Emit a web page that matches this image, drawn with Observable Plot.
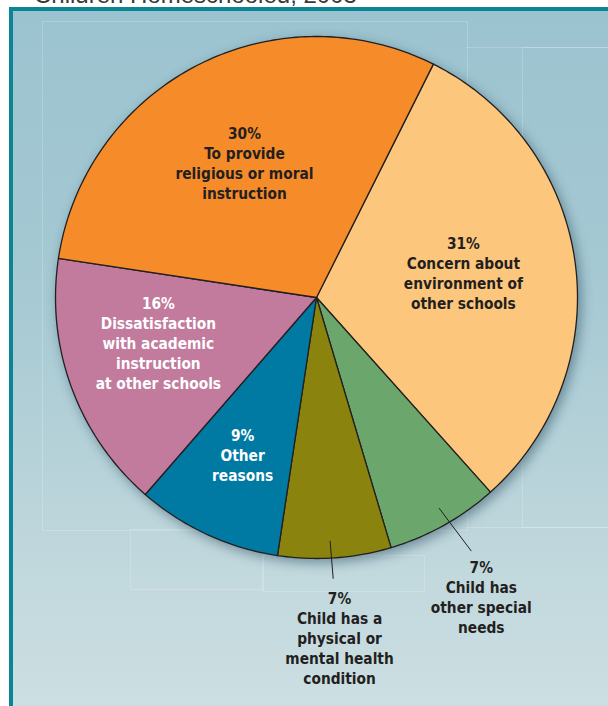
<!DOCTYPE html>
<html>
<head>
<meta charset="utf-8">
<script src="https://cdn.jsdelivr.net/npm/d3@7"></script>
<script src="https://cdn.jsdelivr.net/npm/@observablehq/plot@0.6"></script>
<style>
  html, body { margin: 0; padding: 0; background: #fff; }
  #wrap { position: relative; width: 608px; height: 706px; overflow: hidden; background: #fff; }
  #title { position: absolute; left: 34px; top: -19px; font-family: "Liberation Sans", Arial, sans-serif; font-size: 24px; line-height: 28px; color: #3a3a3a; white-space: nowrap; }
  #panel { position: absolute; left: 9px; top: 7px; width: 700px; height: 800px;
    border-top: 4px solid #0b8495; border-left: 4px solid #0b8495;
    background: linear-gradient(to bottom, #9bc3cf 0%, #a6c9d3 35%, #c1d8dd 70%, #d5e4e6 100%); }
  .grid { position: absolute; border: 1px solid rgba(255,255,255,0.2); }
  #chart { position: absolute; left: 0; top: 0; }
</style>
</head>
<body>
<div id="wrap">
  <div id="title">Children Homeschooled, 2003</div>
  <div id="panel"></div>
  <div class="grid" style="left:42px;top:21px;width:424px;height:508px;"></div>
  <div class="grid" style="left:466px;top:47px;width:200px;height:479px;border-left:none;"></div>
  <div class="grid" style="left:522px;top:47px;width:120px;height:479px;"></div>
  <div class="grid" style="left:130px;top:529px;width:132px;height:59px;"></div>
  <div class="grid" style="left:262px;top:555px;width:161px;height:35px;"></div>
  <div id="chart"></div>
</div>
<script>
// Reasons for homeschooling (percent of homeschooled children), clockwise
const categories = [
  "Concern about environment of other schools",
  "Child has other special needs",
  "Child has a physical or mental health condition",
  "Other reasons",
  "Dissatisfaction with academic instruction at other schools",
  "To provide religious or moral instruction"
];
const values = [31, 7, 7, 9, 16, 30];
const labelLines = [
  ["Concern about", "environment of", "other schools"],
  ["Child has", "other special", "needs"],
  ["Child has a", "physical or", "mental health", "condition"],
  ["Other", "reasons"],
  ["Dissatisfaction", "with academic", "instruction", "at other schools"],
  ["To provide", "religious or moral", "instruction"]
];
const colors = ["#fdc67d", "#6ba76c", "#8a840f", "#0079a3", "#c27a9d", "#f68b2a"];
const textColors = ["#231f20", "#231f20", "#231f20", "#ffffff", "#ffffff", "#231f20"];

// layout (not data): label placement
const outside = [false, true, true, false, false, false];
const labelR = [0.571, 1.185, 1.125, 0.665, 0.63, 0.586];
const labelNudge = [-2.1, -3.0, -0.5, 0.4, 4.3, -0.7];
const leaderR0 = 0.935, leaderR1 = [0, 1.137, 1.078];

const startDeg = 26.6;
const rad = Math.PI / 180;
const pie = d3.pie().sort(null).value(d => d)
  .startAngle(startDeg * rad).endAngle(startDeg * rad + 2 * Math.PI);
const arcs = pie(values);

const pts = (a, r) => ({x: r * Math.sin(a), y: r * Math.cos(a)});

const slices = [];
arcs.forEach((a, i) => {
  slices.push({cat: categories[i], ...pts(0, 0)});
  const n = Math.max(2, Math.ceil((a.endAngle - a.startAngle) / rad));
  for (let k = 0; k <= n; k++) {
    const t = a.startAngle + (a.endAngle - a.startAngle) * k / n;
    slices.push({cat: categories[i], ...pts(t, 1)});
  }
});

const labels = arcs.map((a, i) => {
  const mid = (a.startAngle + a.endAngle) / 2 + labelNudge[i] * rad;
  return {
    ...pts(mid, labelR[i]),
    text: [values[i] + "%", ...labelLines[i]].join("\n"),
    color: textColors[i],
    outside: outside[i]
  };
});

const leaders = [];
arcs.forEach((a, i) => {
  if (!outside[i]) return;
  const mid = (a.startAngle + a.endAngle) / 2 + (i === 1 ? -1.0 : 0.8) * rad;
  leaders.push({id: i, ...pts(mid, leaderR0)});
  leaders.push({id: i, ...pts(mid - (i === 1 ? 1.2 : 0.2) * rad, leaderR1[i])});
});

const cx = 316, cy = 297, R = 261;
const fontFamily = '"DejaVu Sans Condensed", "DejaVu Sans", sans-serif';
const fs = 15.3, lh = 20 / 15.3;

const chart = Plot.plot({
  width: 608,
  height: 706,
  margin: 0,
  style: {background: "transparent", overflow: "visible"},
  x: {domain: [-1, 1], range: [cx - R, cx + R], axis: null},
  y: {domain: [-1, 1], range: [cy + R, cy - R], axis: null},
  color: {domain: categories, range: colors},
  marks: [
    Plot.line(slices, {x: "x", y: "y", z: "cat", fill: "cat", stroke: "#231f20",
      strokeWidth: 1.3, curve: "linear-closed", strokeLinejoin: "round"}),
    Plot.line(leaders, {x: "x", y: "y", z: "id", stroke: "#231f20", strokeWidth: 1}),
    Plot.text(labels.filter(d => !d.outside), {x: "x", y: "y", text: "text", fill: "color",
      lineAnchor: "middle", lineHeight: lh, fontSize: fs, fontWeight: "bold",
      fontFamily, textAnchor: "middle"}),
    Plot.text(labels.filter(d => d.outside), {x: "x", y: "y", text: "text", fill: "color",
      lineAnchor: "top", lineHeight: lh, fontSize: fs, fontWeight: "bold",
      fontFamily, textAnchor: "middle"})
  ]
});

document.getElementById("chart").appendChild(chart);
const pieGroup = chart.querySelector('g[aria-label="line"]');
if (pieGroup) pieGroup.style.filter = "drop-shadow(3px 4px 6px rgba(20,55,75,0.45))";
</script>
</body>
</html>
